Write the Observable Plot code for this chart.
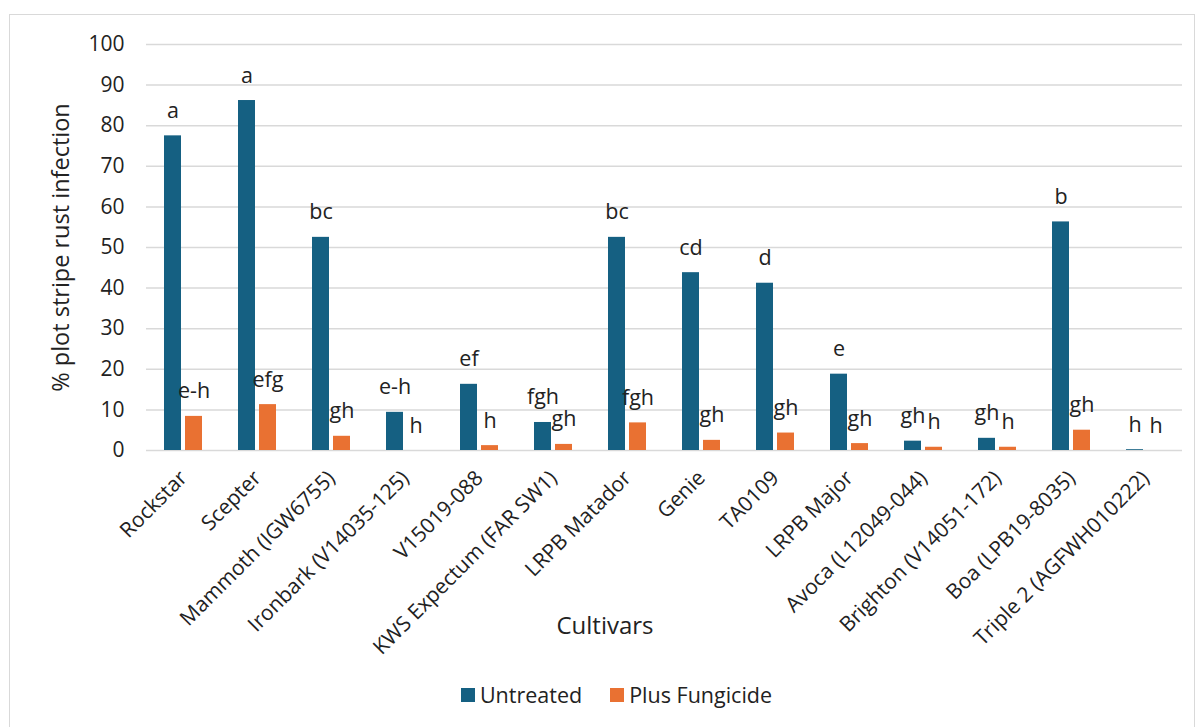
<!DOCTYPE html>
<html>
<head>
<meta charset="utf-8">
<script src="https://cdn.jsdelivr.net/npm/d3@7"></script>
<script src="https://cdn.jsdelivr.net/npm/@observablehq/plot@0.6"></script>
<style>
  html, body { margin: 0; padding: 0; background: #fff; }
  body { width: 1200px; height: 727px; position: relative; overflow: hidden; font-family: "Open Sans", sans-serif; }
  #frame { position: absolute; left: 9px; top: 14px; width: 1186px; height: 720px; border: 1px solid #d9d9d9; box-sizing: border-box; }
  #chart { position: absolute; left: 0; top: 0; }
  #xlabel { position: absolute; left: 0; width: 1210px; top: 608px; text-align: center; font-size: 24px; color: #222; }
  #legend { position: absolute; left: 0; width: 1233px; top: 680px; display: flex; justify-content: center; gap: 28px; font-size: 21.5px; color: #222; }
  .item { display: flex; align-items: center; gap: 5px; }
  .sw { width: 14px; height: 14px; display: inline-block; }
</style>
</head>
<body>
<div id="frame"></div>
<div id="chart"></div>
<div id="xlabel">Cultivars</div>
<div id="legend"></div>
<script>
const cultivars = ["Rockstar", "Scepter", "Mammoth (IGW6755)", "Ironbark (V14035-125)", "V15019-088", "KWS Expectum (FAR SW1)", "LRPB Matador", "Genie", "TA0109", "LRPB Major", "Avoca (L12049-044)", "Brighton (V14051-172)", "Boa (LPB19-8035)", "Triple 2 (AGFWH010222)"];
const untreated = [77.5, 86.2, 52.5, 9.4, 16.3, 6.9, 52.5, 43.8, 41.2, 18.8, 2.3, 3.0, 56.3, 0.2];
const fungicide = [8.4, 11.3, 3.5, 0, 1.2, 1.5, 6.8, 2.5, 4.3, 1.7, 0.8, 0.8, 5.0, 0];
const untreatedLetters = ["a", "a", "bc", "e-h", "ef", "fgh", "bc", "cd", "d", "e", "gh", "gh", "b", "h"];
const fungicideLetters = ["e-h", "efg", "gh", "h", "h", "gh", "fgh", "gh", "gh", "gh", "h", "h", "gh", "h"];
const series = ["Untreated", "Plus Fungicide"];
const colors = ["#156082", "#E97132"];
const yTicks = [0, 10, 20, 30, 40, 50, 60, 70, 80, 90, 100];

const rows = cultivars.flatMap((c, i) => [
  {cultivar: c, series: series[0], value: untreated[i], letter: untreatedLetters[i]},
  {cultivar: c, series: series[1], value: fungicide[i], letter: fungicideLetters[i]}
]);

const chart = Plot.plot({
  width: 1200,
  height: 660,
  marginTop: 44,
  marginBottom: 210,
  marginLeft: 144,
  marginRight: 16,
  style: {fontFamily: "Open Sans, sans-serif", fontSize: "21px", color: "#222", background: "transparent"},
  fx: {domain: cultivars, padding: 0, label: null},
  x: {domain: series, paddingInner: 0.2, paddingOuter: 0.85, axis: null},
  y: {domain: [0, 100]},
  color: {domain: series, range: colors},
  marks: [
    Plot.gridY(yTicks, {stroke: "#d9d9d9", strokeOpacity: 1, strokeWidth: 1.5}),
    Plot.axisY(yTicks, {tickSize: 0, tickPadding: 22, fontSize: 21, label: null}),
    Plot.axisY({ticks: [], tickSize: 0, fontSize: 23.5, label: "% plot stripe rust infection", labelAnchor: "center", labelArrow: "none", labelOffset: 94}),
    Plot.axisFx({anchor: "bottom", tickRotate: -45, tickSize: 0, tickPadding: 24, fontSize: 21, label: null}),
    Plot.barY(rows, {fx: "cultivar", x: "series", y: "value", fill: "series"}),
    Plot.text(rows, {fx: "cultivar", x: "series", y: "value", text: "letter", dy: -18, lineAnchor: "bottom", fontSize: 21.5, fill: "#222"})
  ]
});
document.getElementById("chart").appendChild(chart);

const legend = document.getElementById("legend");
series.forEach((s, i) => {
  const item = document.createElement("div");
  item.className = "item";
  const sw = document.createElement("span");
  sw.className = "sw";
  sw.style.background = colors[i];
  const t = document.createElement("span");
  t.textContent = s;
  item.appendChild(sw);
  item.appendChild(t);
  legend.appendChild(item);
});
</script>
</body>
</html>
